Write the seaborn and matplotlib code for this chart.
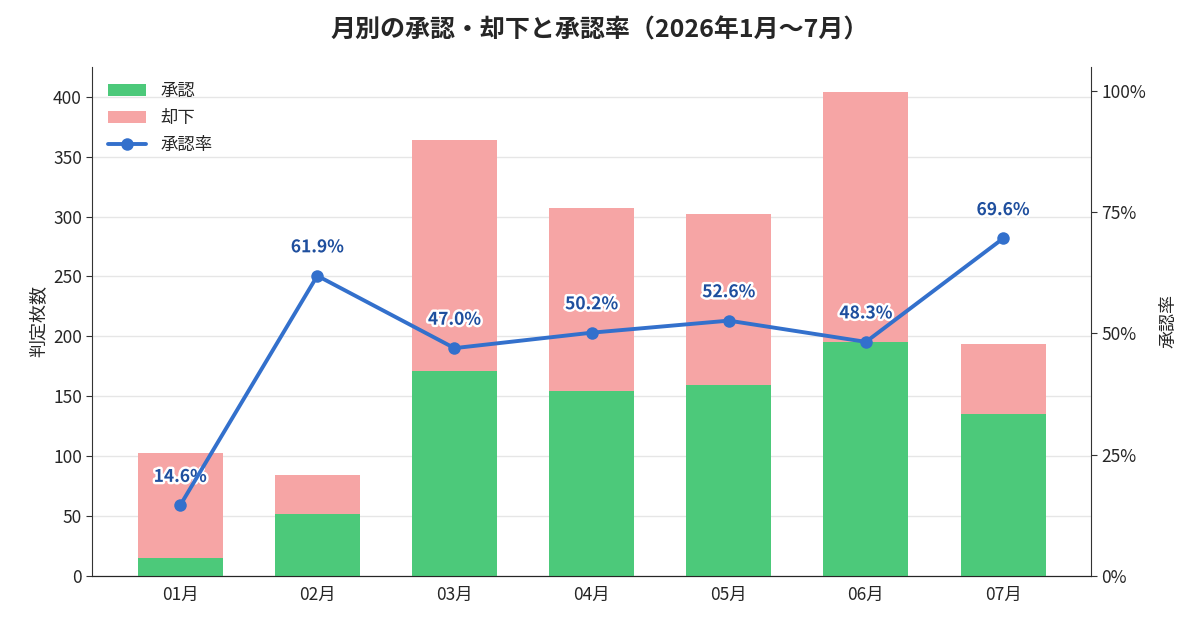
import matplotlib.pyplot as plt
import matplotlib.patheffects as pe
import matplotlib.ticker as mticker
import seaborn as sns
import pandas as pd
import numpy as np

months = ["01月", "02月", "03月", "04月", "05月", "06月", "07月"]
approved = [15, 52, 171, 154, 159, 195, 135]
rejected = [88, 32, 193, 153, 143, 209, 59]

df = pd.DataFrame({"month": months, "approved": approved, "rejected": rejected})
df["total"] = df["approved"] + df["rejected"]
df["rate"] = df["approved"] / df["total"] * 100
df["pos"] = np.arange(len(months))

sns.set_style("white")
plt.rcParams["font.family"] = ["Noto Sans CJK JP", "DejaVu Sans"]

fig, ax = plt.subplots(figsize=(12, 6.24), dpi=100)
fig.subplots_adjust(left=0.077, right=0.909, top=0.893, bottom=0.077)

green = "#4cc97a"
pink = "#f6a5a5"
blue = "#3370cc"

sns.barplot(data=df, x="month", y="total", color=pink, width=0.62, ax=ax,
            saturation=1, label="却下", zorder=2, linewidth=0, edgecolor="none")
sns.barplot(data=df, x="month", y="approved", color=green, width=0.62, ax=ax,
            saturation=1, label="承認", zorder=3, linewidth=0, edgecolor="none")

ax.set_ylim(0, 425)
ax.set_xlim(-0.64, 6.64)
ax.set_yticks(range(0, 401, 50))
ax.yaxis.grid(True, color="#e6e6e6", linewidth=1, zorder=0)
ax.set_axisbelow(True)
ax.set_xlabel("")
ax.set_ylabel("判定枚数", fontsize=13)
ax.tick_params(axis="both", labelsize=12.5, length=4, color="#333333")
ax.spines["top"].set_visible(False)
ax.spines["right"].set_visible(False)
for s in ["left", "bottom"]:
    ax.spines[s].set_color("#333333")

ax2 = ax.twinx()
sns.lineplot(data=df, x="pos", y="rate", color=blue, linewidth=2.8, marker="o",
             markersize=9, markeredgewidth=0, ax=ax2, label="承認率", zorder=5)
ax2.set_ylim(0, 105)
ax2.set_yticks([0, 25, 50, 75, 100])
ax2.yaxis.set_major_formatter(mticker.FuncFormatter(lambda v, p: f"{v:.0f}%"))
ax2.set_ylabel("承認率", fontsize=13, labelpad=10)
ax2.set_xlabel("")
ax2.tick_params(axis="y", labelsize=12.5, length=4, color="#333333")
ax2.spines["top"].set_visible(False)
ax2.spines["right"].set_color("#333333")
ax2.spines["left"].set_visible(False)

for x, r in zip(df["pos"], df["rate"]):
    ax2.annotate(f"{r:.1f}%", (x, r), xytext=(0, 14), textcoords="offset points",
                 ha="center", va="bottom", fontsize=12.5, fontweight="bold",
                 color="#1f4f9e",
                 path_effects=[pe.withStroke(linewidth=3.5, foreground="white")])

h1, l1 = ax.get_legend_handles_labels()
h2, l2 = ax2.get_legend_handles_labels()
order = [1, 0]
handles = [h1[i] for i in order] + h2
labels = [l1[i] for i in order] + l2
ax2.legend(handles, labels, loc="upper left", frameon=False, fontsize=12.5,
           handlelength=2.2, bbox_to_anchor=(0.0, 1.0))
if ax.get_legend():
    ax.get_legend().remove()

fig.suptitle("月別の承認・却下と承認率（2026年1月〜7月）", fontsize=18,
             fontweight="bold", y=0.97)

fig.savefig("out.png", dpi=100)
